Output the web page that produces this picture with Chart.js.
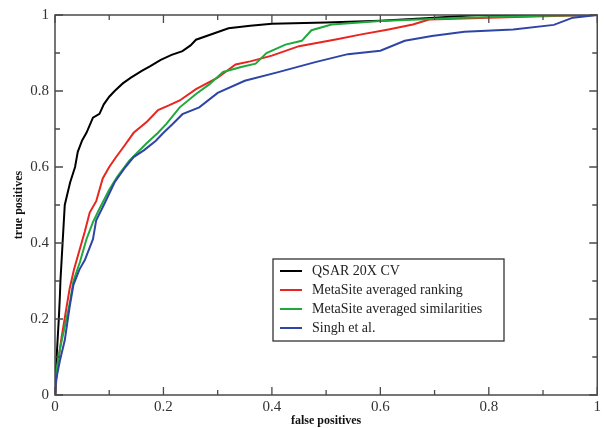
<!DOCTYPE html>
<html>
<head>
<meta charset="utf-8">
<script src="https://cdn.jsdelivr.net/npm/chart.js@4.4.0/dist/chart.umd.min.js"></script>
<style>
  html, body { margin: 0; padding: 0; background: #fff; }
  #wrap { width: 604px; height: 428px; }
</style>
</head>
<body>
<div id="wrap"><canvas id="roc" width="604" height="428"></canvas></div>
<script>
/* ROC curves: [false positives, true positives] */
var seriesNames = ['QSAR 20X CV', 'MetaSite averaged ranking', 'MetaSite averaged similarities', 'Singh et al.'];
var seriesColors = ['#000000', '#e8261f', '#1fa83c', '#2e45a6'];

var qsar = [[0,0],[0.001,0.05],[0.003,0.1],[0.005,0.15],[0.007,0.2],[0.009,0.26],[0.01,0.3],[0.012,0.35],[0.014,0.4],[0.016,0.45],
  [0.018,0.5],[0.023,0.53],[0.028,0.56],[0.037,0.6],[0.042,0.64],[0.05,0.67],[0.058,0.69],[0.07,0.73],[0.082,0.74],[0.09,0.765],
  [0.1,0.785],[0.11,0.8],[0.125,0.82],[0.14,0.835],[0.16,0.853],[0.175,0.865],[0.195,0.882],[0.215,0.895],[0.235,0.905],
  [0.25,0.92],[0.26,0.935],[0.29,0.95],[0.32,0.965],[0.36,0.972],[0.4,0.977],[0.5,0.98],[0.6,0.985],[0.7,0.993],[0.78,1],[1,1]];

var ranking = [[0,0],[0.005,0.08],[0.012,0.15],[0.02,0.22],[0.027,0.28],[0.035,0.33],[0.045,0.38],[0.055,0.43],[0.064,0.48],
  [0.076,0.51],[0.088,0.57],[0.1,0.6],[0.112,0.625],[0.125,0.65],[0.145,0.69],[0.17,0.72],[0.19,0.75],[0.21,0.762],[0.23,0.775],
  [0.26,0.805],[0.3,0.835],[0.333,0.87],[0.36,0.878],[0.4,0.893],[0.45,0.918],[0.52,0.936],[0.565,0.949],[0.615,0.962],
  [0.66,0.975],[0.69,0.988],[0.8,0.993],[0.9,0.997],[1,1]];

var similar = [[0,0],[0.002,0.06],[0.009,0.12],[0.018,0.18],[0.027,0.24],[0.034,0.3],[0.046,0.35],[0.058,0.41],[0.07,0.455],
  [0.082,0.49],[0.1,0.54],[0.115,0.575],[0.137,0.617],[0.168,0.661],[0.19,0.69],[0.205,0.713],[0.23,0.757],[0.26,0.792],
  [0.285,0.818],[0.31,0.85],[0.345,0.864],[0.37,0.872],[0.39,0.9],[0.425,0.922],[0.455,0.932],[0.473,0.96],[0.51,0.975],
  [0.6,0.984],[0.75,0.993],[0.9,0.998],[1,1]];

var singh = [[0,0],[0.002,0.04],[0.009,0.09],[0.018,0.144],[0.027,0.232],[0.034,0.29],[0.045,0.33],[0.055,0.355],[0.07,0.41],
  [0.076,0.46],[0.09,0.5],[0.11,0.56],[0.13,0.6],[0.145,0.626],[0.165,0.645],[0.186,0.669],[0.2,0.69],[0.217,0.713],
  [0.235,0.739],[0.266,0.757],[0.3,0.795],[0.35,0.827],[0.41,0.849],[0.48,0.876],[0.54,0.897],[0.6,0.906],[0.645,0.932],
  [0.695,0.945],[0.755,0.956],[0.845,0.962],[0.92,0.974],[0.955,0.993],[1,1]];

var allSeries = [qsar, ranking, similar, singh];
var tickValues = [0, 0.2, 0.4, 0.6, 0.8, 1];

function toPoints(arr) {
    return arr.map(function (p) { return { x: p[0], y: p[1] }; });
}

var serif = "'Liberation Serif', 'DejaVu Serif', serif";

/* ticks pointing inwards on all 4 sides + frame */
var frameTicks = {
    id: 'frameTicks',
    afterDatasetsDraw: function (chart) {
        var ctx = chart.ctx, a = chart.chartArea;
        var xs = chart.scales.x, ys = chart.scales.y;
        ctx.save();
        ctx.strokeStyle = '#4a4a4a';
        ctx.lineWidth = 1.3;
        for (var i = 0; i <= 10; i++) {
            var v = i / 10;
            var len = (i % 2 === 0) ? 8 : 5;
            var px = xs.getPixelForValue(v);
            var py = ys.getPixelForValue(v);
            ctx.beginPath();
            ctx.moveTo(px, a.bottom); ctx.lineTo(px, a.bottom - len);
            ctx.moveTo(px, a.top); ctx.lineTo(px, a.top + len);
            ctx.moveTo(a.left, py); ctx.lineTo(a.left + len, py);
            ctx.moveTo(a.right, py); ctx.lineTo(a.right - len, py);
            ctx.stroke();
        }
        ctx.lineWidth = 1.5;
        ctx.strokeRect(a.left, a.top, a.right - a.left, a.bottom - a.top);
        ctx.restore();
    }
};

/* legend box drawn inside the plot, same order as seriesNames */
var boxLegend = {
    id: 'boxLegend',
    afterDraw: function (chart) {
        var ctx = chart.ctx;
        var bx = 273, by = 259, bw = 231, bh = 82;
        ctx.save();
        ctx.fillStyle = '#fff';
        ctx.fillRect(bx, by, bw, bh);
        ctx.strokeStyle = '#333';
        ctx.lineWidth = 1.3;
        ctx.strokeRect(bx, by, bw, bh);
        ctx.font = '14px ' + serif;
        ctx.textBaseline = 'middle';
        seriesNames.forEach(function (name, i) {
            var y = 271 + i * 19;
            ctx.strokeStyle = seriesColors[i];
            ctx.lineWidth = 2;
            ctx.beginPath();
            ctx.moveTo(280, y); ctx.lineTo(302, y);
            ctx.stroke();
            ctx.fillStyle = '#222';
            ctx.fillText(name, 312, y);
        });
        ctx.restore();
    }
};

var ctx1 = document.getElementById('roc').getContext('2d');
var myChart = new Chart(ctx1, {
    type: 'scatter',
    data: {
        datasets: allSeries.map(function (s, i) {
            return {
                label: seriesNames[i],
                data: toPoints(s),
                showLine: true,
                borderColor: seriesColors[i],
                backgroundColor: seriesColors[i],
                borderWidth: 2,
                pointRadius: 0,
                tension: 0
            };
        }).reverse()
    },
    options: {
        responsive: false,
        animation: false,
        events: [],
        layout: { padding: { top: 14, right: 2, left: 0, bottom: 0 } },
        plugins: { legend: { display: false }, tooltip: { enabled: false } },
        scales: {
            x: {
                type: 'linear', min: 0, max: 1,
                afterFit: function (s) { s.height = 33; },
                afterBuildTicks: function (s) { s.ticks = tickValues.map(function (v) { return { value: v }; }); },
                grid: { display: false, drawTicks: false },
                border: { display: false },
                ticks: {
                    padding: 3, color: '#333', font: { family: serif, size: 15 },
                    callback: function (v) { return String(v); }
                },
                title: { display: true, text: 'false positives', color: '#111', padding: { top: 0, bottom: 0 },
                    font: { family: serif, size: 12, weight: 'bold' } }
            },
            y: {
                type: 'linear', min: 0, max: 1,
                afterFit: function (s) { s.width = 55; },
                afterBuildTicks: function (s) { s.ticks = tickValues.map(function (v) { return { value: v }; }); },
                grid: { display: false, drawTicks: false },
                border: { display: false },
                ticks: {
                    padding: 6, color: '#333', font: { family: serif, size: 15 },
                    callback: function (v) { return String(v); }
                },
                title: { display: true, text: 'true positives', color: '#111', padding: { top: 12, bottom: 0 },
                    font: { family: serif, size: 12, weight: 'bold' } }
            }
        }
    },
    plugins: [frameTicks, boxLegend]
});
</script>
</body>
</html>
